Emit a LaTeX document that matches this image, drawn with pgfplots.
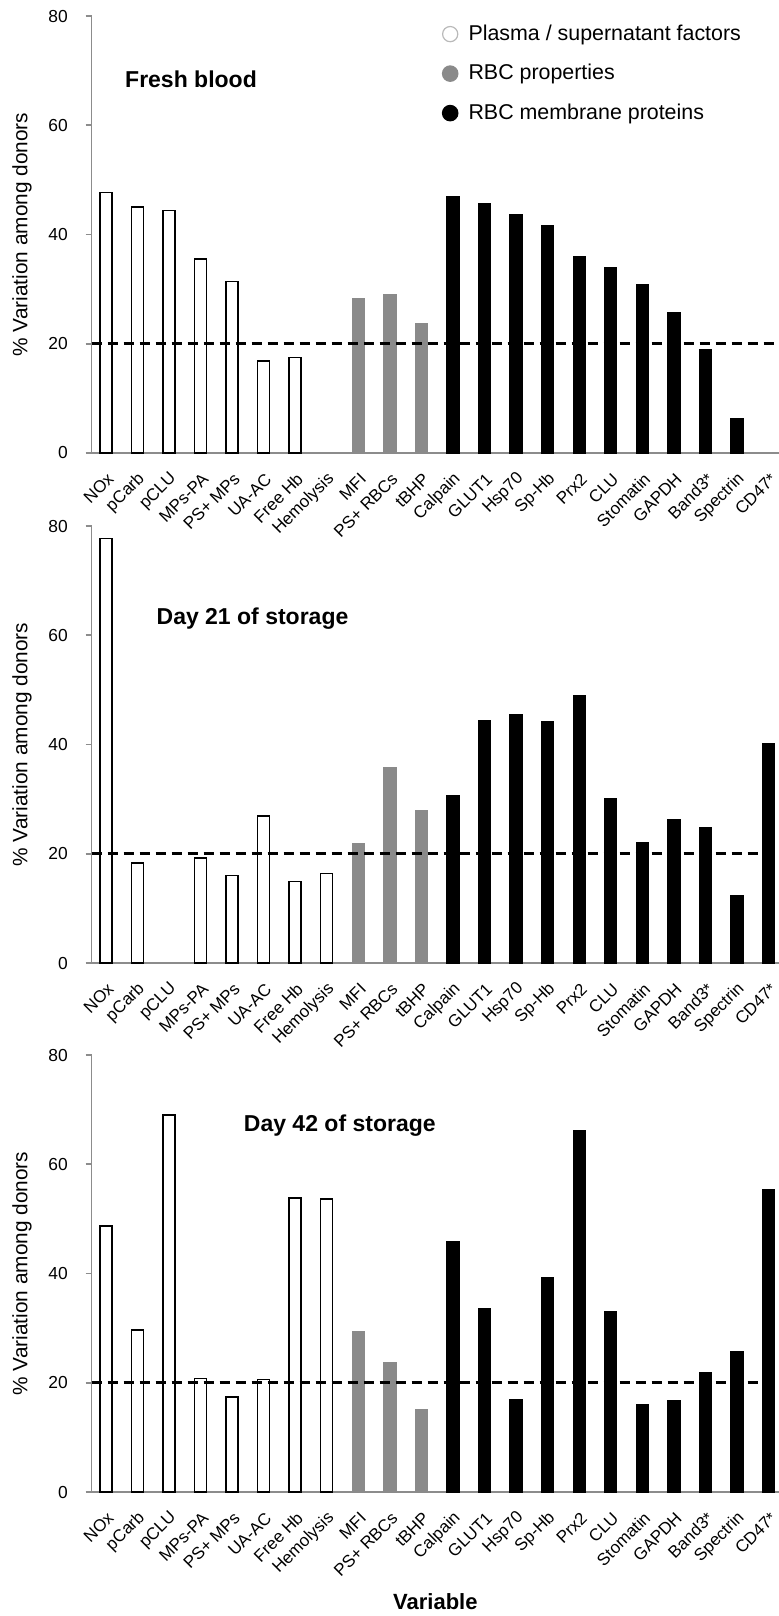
\documentclass[border=0pt]{standalone}
\usepackage{fontspec}
\setmainfont{Liberation Sans}
\usepackage{pgfplots}
\pgfplotsset{compat=1.18}
\definecolor{rbcgray}{HTML}{8A8A8A}
\definecolor{axgray}{HTML}{8C8C8C}
\pgfplotsset{
 panel/.style={
  scale only axis, width=343.65pt, height=218.5pt,
  xmin=-0.447, xmax=21.33, ymin=0, ymax=80,
  axis x line*=bottom, axis y line*=left,
  axis line style={draw=axgray, line width=0.8pt},
  ytick={0,20,40,60,80},
  ytick style={draw=axgray, line width=0.8pt},
  tick align=outside, major tick length=3pt,
  xtick={0,...,21},
  xticklabels={NOx, pCarb, pCLU, MPs-PA, PS+ MPs, UA-AC, Free Hb, Hemolysis, MFI, PS+ RBCs, tBHP, Calpain, GLUT1, Hsp70, Sp-Hb, Prx2, CLU, Stomatin, GAPDH, Band3*, Spectrin, CD47*},
  xtick style={draw=none},
  yticklabel style={font=\fontsize{8.7}{10}\selectfont, anchor=east, inner sep=0pt, xshift=-8.8pt},
  xticklabel style={font=\fontsize{8.5}{9.5}\selectfont, inner sep=0pt, xshift=2.5pt, yshift=-8.5pt, rotate=45, anchor=east},
  /pgf/number format/assume math mode=true,
  every axis y label/.style={at={(axis description cs:0,0.5)}, xshift=-34.85pt, rotate=90, anchor=center, font=\fontsize{10.4}{12}\selectfont},
  ylabel={\% Variation among donors},
  ybar, bar width=6pt, bar shift=0pt,
  clip=false,
 },
 plasma/.style={draw=black, fill=white, line width=0.75pt},
 rbcp/.style={draw=rbcgray, fill=rbcgray, line width=0.7pt},
 memb/.style={draw=black, fill=black, line width=0.7pt},
 cut/.style={sharp plot, draw=black, line width=1.4pt, dash pattern=on 5pt off 3pt, forget plot},
}
\begin{document}
\begin{tikzpicture}
\useasboundingbox (0,0) rectangle (389.5pt,-808pt);
% ---------------- Panel 1 ----------------
\begin{axis}[panel, at={(45.85pt,-226.5pt)}, anchor=south west,
  legend style={draw=none, fill=none, at={(0.5002,0.999)}, anchor=north west,
    font=\fontsize{10.7}{12}\selectfont, row sep=6.5pt},
  legend cell align=left]
\addplot[plasma, legend image code/.code={\draw[fill=white, draw=gray!55, line width=0.6pt] (3.8pt,0pt) circle (3.8pt); \path (10.6pt,0pt);}]
 coordinates {(0,47.7) (1,45.0) (2,44.4) (3,35.5) (4,31.4) (5,16.8) (6,17.5)};
\addlegendentry{Plasma / supernatant factors}
\addplot[rbcp, legend image code/.code={\draw[fill=rbcgray, draw=rbcgray] (3.8pt,0pt) circle (3.8pt); \path (10.6pt,0pt);}]
 coordinates {(8,28.3) (9,28.9) (10,23.7)};
\addlegendentry{RBC properties}
\addplot[memb, legend image code/.code={\draw[fill=black, draw=black] (3.8pt,0pt) circle (3.8pt); \path (10.6pt,0pt);}]
 coordinates {(11,46.9) (12,45.7) (13,43.7) (14,41.6) (15,36.0) (16,34.0) (17,30.9) (18,25.7) (19,18.9) (20,6.2)};
\addlegendentry{RBC membrane proteins}
\addplot[cut] coordinates {(-0.447,20) (21.33,20)};
\node[font=\bfseries\fontsize{11.5}{13}\selectfont] at (rel axis cs:0.1445,0.856) {Fresh blood};
\end{axis}
% ---------------- Panel 2 ----------------
\begin{axis}[panel, at={(45.85pt,-481.5pt)}, anchor=south west]
\addplot[plasma] coordinates {(0,77.7) (1,18.3) (3,19.2) (4,16.0) (5,26.9) (6,14.9) (7,16.4)};
\addplot[rbcp] coordinates {(8,21.9) (9,35.8) (10,27.9)};
\addplot[memb] coordinates {(11,30.7) (12,44.4) (13,45.5) (14,44.1) (15,49.0) (16,30.0) (17,22.0) (18,26.3) (19,24.8) (20,12.3) (21,40.1)};
\addplot[cut] coordinates {(-0.447,20) (21.33,20)};
\node[font=\bfseries\fontsize{11.5}{13}\selectfont] at (rel axis cs:0.234,0.789) {Day 21 of storage};
\end{axis}
% ---------------- Panel 3 ----------------
\begin{axis}[panel, at={(45.85pt,-746pt)}, anchor=south west,
  xlabel={Variable},
  every axis x label/.style={at={(axis description cs:0.5,0)}, yshift=-55pt, anchor=center, font=\bfseries\fontsize{11}{13}\selectfont}]
\addplot[plasma] coordinates {(0,48.7) (1,29.7) (2,69.0) (3,20.8) (4,17.4) (5,20.6) (6,53.8) (7,53.6)};
\addplot[rbcp] coordinates {(8,29.4) (9,23.6) (10,15.1)};
\addplot[memb] coordinates {(11,45.8) (12,33.6) (13,16.9) (14,39.2) (15,66.1) (16,33.1) (17,16.0) (18,16.8) (19,21.8) (20,25.6) (21,55.3)};
\addplot[cut] coordinates {(-0.447,20) (21.33,20)};
\node[font=\bfseries\fontsize{11.5}{13}\selectfont] at (rel axis cs:0.361,0.8375) {Day 42 of storage};
\end{axis}
\end{tikzpicture}
\end{document}
